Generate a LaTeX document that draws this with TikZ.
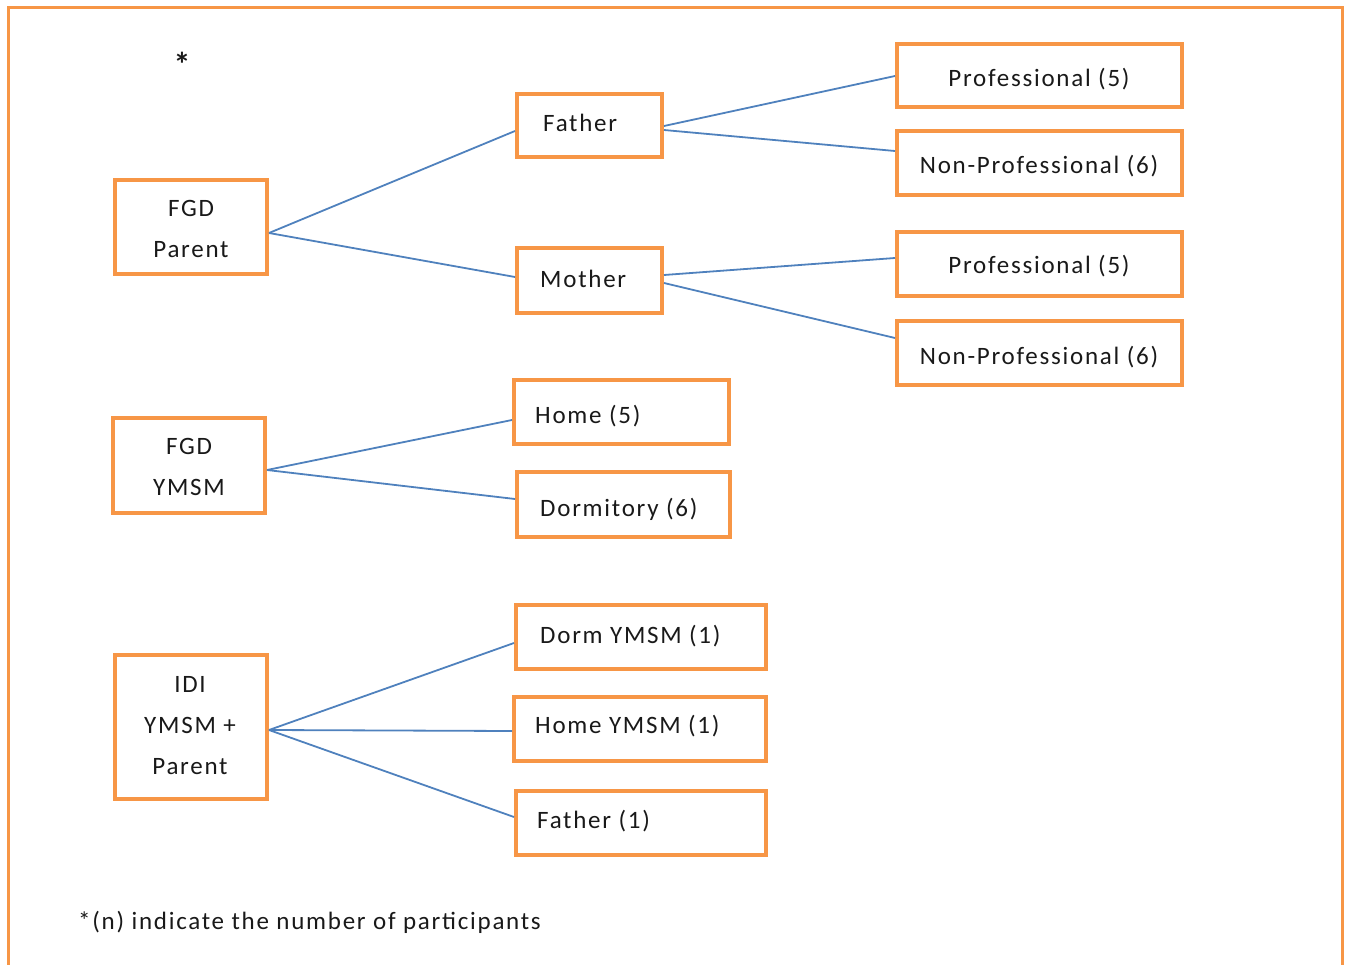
\documentclass[tikz,border=0pt]{standalone}
\usepackage{fontspec}
\setmainfont{Carlito}[LetterSpace=7]
\definecolor{boxorange}{HTML}{F79646}
\definecolor{lineblue}{HTML}{4F81BD}
\begin{document}
\begin{tikzpicture}[x=1pt,y=-1pt,
  box/.style={draw=boxorange, line width=4pt, rectangle, inner sep=0pt},
  txt/.style={inner sep=0pt, font=\fontsize{25}{41}\selectfont, text=black!90},
  conn/.style={draw=lineblue, line width=1.8pt}]
\useasboundingbox (0,0) rectangle (1351,965);
\draw[boxorange, line width=3pt] (8,975) -- (8,8) -- (1342,8) -- (1342,975);
% boxes
\node[box, minimum width=152pt, minimum height=94pt] (fgdp) at (191,227) {};
\node[box, minimum width=145pt, minimum height=63pt] (fa) at (589.5,125.5) {};
\node[box, minimum width=145pt, minimum height=65pt] (mo) at (589.5,280.5) {};
\node[box, minimum width=285pt, minimum height=63pt] (p1) at (1039.5,75.5) {};
\node[box, minimum width=285pt, minimum height=64pt] (n1) at (1039.5,163) {};
\node[box, minimum width=285pt, minimum height=64pt] (p2) at (1039.5,264) {};
\node[box, minimum width=285pt, minimum height=64pt] (n2) at (1039.5,353) {};
\node[box, minimum width=152pt, minimum height=95pt] (fgdy) at (189,465.5) {};
\node[box, minimum width=215pt, minimum height=64pt] (ho) at (621.5,412) {};
\node[box, minimum width=213pt, minimum height=65pt] (do) at (623.5,504.5) {};
\node[box, minimum width=152pt, minimum height=144pt] (idi) at (191,727) {};
\node[box, minimum width=250pt, minimum height=64pt] (dy) at (641,637) {};
\node[box, minimum width=252pt, minimum height=64pt] (hy) at (640,729) {};
\node[box, minimum width=250pt, minimum height=64pt] (f1) at (641,823) {};
% texts
\node[txt, align=center] (tfgdp) at (191,229) {FGD\\Parent};
\node[txt, anchor=west] (tfa) at (543,123) {Father};
\node[txt, anchor=west] (tmo) at (540,279) {Mother};
\node[txt] (tp1) at (1039,79) {Professional (5)};
\node[txt] (tn1) at (1039,166) {Non-Professional (6)};
\node[txt] (tp2) at (1039,266) {Professional (5)};
\node[txt] (tn2) at (1039,357) {Non-Professional (6)};
\node[txt, align=center] (tfgdy) at (189,467) {FGD\\YMSM};
\node[txt, anchor=west] (tho) at (535,416) {Home (5)};
\node[txt, anchor=west] (tdo) at (540,509) {Dormitory (6)};
\node[txt, align=center] (tidi) at (190,726) {IDI\\YMSM +\\Parent};
\node[txt, anchor=west] (tdy) at (540,636) {Dorm YMSM (1)};
\node[txt, anchor=west] (thy) at (535,726) {Home YMSM (1)};
\node[txt, anchor=west] (tf1) at (537,821) {Father (1)};
\node[txt, font=\fontsize{34}{34}\selectfont\bfseries] (star) at (182,64) {*};
\node[txt, anchor=west] (foot) at (78,922) {*(n) indicate the number of participants};
% connectors
\coordinate (fgdpR) at ([yshift=-6pt]fgdp.east);
\draw[conn] (fgdpR) -- ([yshift=-5.5pt]fa.west);
\draw[conn] (fgdpR) -- ([yshift=3.5pt]mo.west);
\draw[conn] ([yshift=-0.5pt]fa.east) -- ([yshift=-0.5pt]p1.west);
\draw[conn] ([yshift=-4.5pt]fa.east) -- ([yshift=12pt]n1.west);
\draw[conn] ([yshift=5.5pt]mo.east) -- ([yshift=6pt]p2.west);
\draw[conn] ([yshift=-2.5pt]mo.east) -- ([yshift=15pt]n2.west);
\coordinate (fgdyR) at ([yshift=-4.5pt]fgdy.east);
\draw[conn] (fgdyR) -- ([yshift=-8pt]ho.west);
\draw[conn] (fgdyR) -- ([yshift=5.5pt]do.west);
\coordinate (idiR) at ([yshift=-3pt]idi.east);
\draw[conn] (idiR) -- ([yshift=-6pt]dy.west);
\draw[conn] (idiR) -- ([yshift=-2pt]hy.west);
\draw[conn] (idiR) -- ([yshift=6pt]f1.west);
\end{tikzpicture}
\end{document}
